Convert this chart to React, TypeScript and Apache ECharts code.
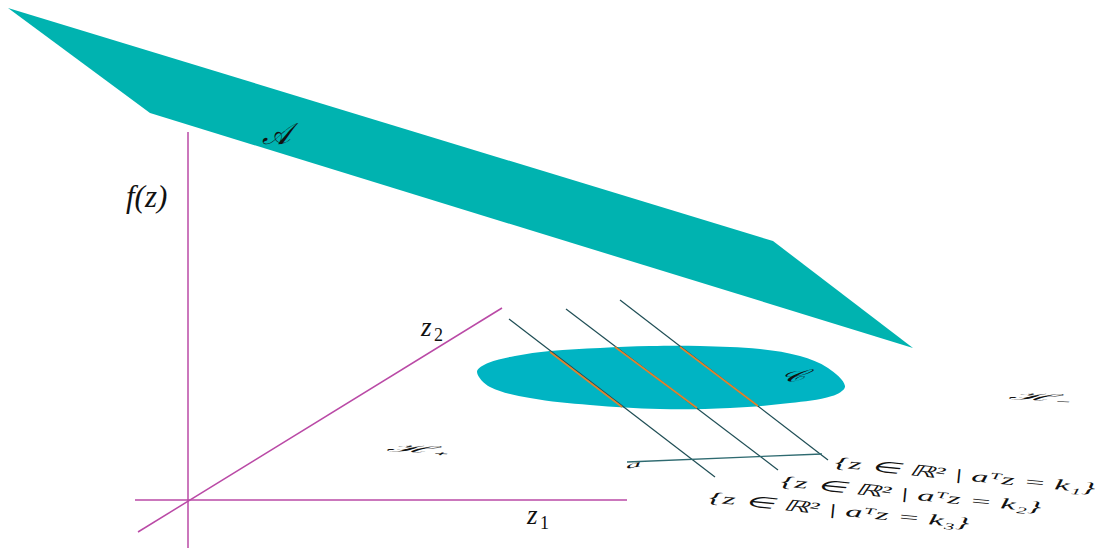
import React, { useEffect, useRef } from "react";
import * as echarts from "echarts";

// Diagram space: x 0..1102 (right), y 0..548 (down)
const planeA: number[][] = [[8, 8], [150, 113], [913, 348], [773, 241]];
const setC: number[][] = [
  [477, 372], [488, 363], [515, 356], [550, 351], [600, 348], [650, 346], [700, 346],
  [760, 349], [800, 356], [828, 368], [845, 386], [832, 396], [790, 403], [730, 408],
  [660, 409], [590, 405], [530, 398], [490, 387],
];
const axisF: number[][] = [[188, 132], [188, 548]];
const axisZ1: number[][] = [[135, 500], [627, 500]];
const axisZ2: number[][] = [[138, 532], [502, 308]];
const level1: number[][] = [[620, 300], [828, 460]];
const level2: number[][] = [[566, 309], [778, 470]];
const level3: number[][] = [[509, 319], [715, 477]];
const inside1: number[][] = [[680, 347], [758, 406]];
const inside2: number[][] = [[615, 347], [697, 408]];
const inside3: number[][] = [[550, 352], [622, 407]];
const vectorA: number[][] = [[627, 462], [822, 454]];

const MAGENTA = "#BA4AA6";
const DARK = "#1F4E55";
const ORANGE = "#E0832E";

function polySeries(pts: number[][], color: string, smooth: number) {
  return {
    type: "custom",
    data: [[0, 0]],
    silent: true,
    renderItem: (_p: any, api: any) => ({
      type: "polygon",
      shape: { points: pts.map((p) => api.coord(p)), smooth },
      style: { fill: color, stroke: "none" },
    }),
  };
}

function lineSeries(pts: number[][], color: string, width: number) {
  return {
    type: "line",
    data: pts,
    showSymbol: false,
    silent: true,
    lineStyle: { color, width },
    z: 3,
  };
}

const SERIF = "Liberation Serif";

export default function App() {
  const ref = useRef<HTMLDivElement>(null);
  useEffect(() => {
    document.body.style.margin = "0";
    const chart = echarts.init(ref.current!, null, { renderer: "svg" });
    const txt = (text: string, x: number, y: number, size: number, extra: any = {}, italic = true) => ({
      type: "text",
      x,
      y,
      z: 10,
      ...extra,
      style: {
        text,
        fontFamily: SERIF,
        fontStyle: italic ? "italic" : "normal",
        fontSize: size,
        fill: "#111",
        textAlign: "left",
        textVerticalAlign: "middle",
      },
    });
    chart.setOption({
      animation: false,
      grid: { left: 0, top: 0, right: 0, bottom: 0 },
      xAxis: { type: "value", min: 0, max: 1102, show: false },
      yAxis: { type: "value", min: 0, max: 548, inverse: true, show: false },
      series: [
        polySeries(planeA, "#00B3B0", 0),
        polySeries(setC, "#00B4C3", 0.35),
        lineSeries(axisF, MAGENTA, 1.5),
        lineSeries(axisZ1, MAGENTA, 1.5),
        lineSeries(axisZ2, MAGENTA, 1.5),
        lineSeries(level1, DARK, 1.2),
        lineSeries(level2, DARK, 1.2),
        lineSeries(level3, DARK, 1.2),
        lineSeries(inside1, ORANGE, 1.6),
        lineSeries(inside2, ORANGE, 1.6),
        lineSeries(inside3, ORANGE, 1.6),
        lineSeries(vectorA, "#2E6A70", 1.3),
      ],
      graphic: [
        txt("𝒜", 262, 133, 30),
        txt("f(z)", 126, 196, 31),
        txt("z", 421, 327, 27),
        txt("2", 434, 335, 18, {}, false),
        txt("z", 527, 515, 27),
        txt("1", 540, 523, 18, {}, false),
        txt("𝒞", 778, 378, 34, { scaleY: 0.4, scaleX: 1.1, rotation: 0.12 }),
        txt("ℋ₊", 386, 448, 34, { scaleY: 0.3, scaleX: 1.3, rotation: -0.05 }),
        txt("ℋ₋", 1008, 396, 34, { scaleY: 0.3, scaleX: 1.3, rotation: -0.05 }),
        txt("a", 626, 466, 26, { scaleY: 0.35, scaleX: 1.2, rotation: 0.2 }),
        txt("{z ∈ ℝ² | aᵀz = k₁}", 835, 462, 22, { scaleY: 0.7, scaleX: 1.55, rotation: -0.1 }),
        txt("{z ∈ ℝ² | aᵀz = k₂}", 781, 481, 22, { scaleY: 0.7, scaleX: 1.55, rotation: -0.1 }),
        txt("{z ∈ ℝ² | aᵀz = k₃}", 709, 497, 22, { scaleY: 0.7, scaleX: 1.55, rotation: -0.1 }),
      ],
    });
    return () => chart.dispose();
  }, []);
  return <div ref={ref} style={{ width: 1102, height: 548, position: "absolute", left: 0, top: 0 }} />;
}
